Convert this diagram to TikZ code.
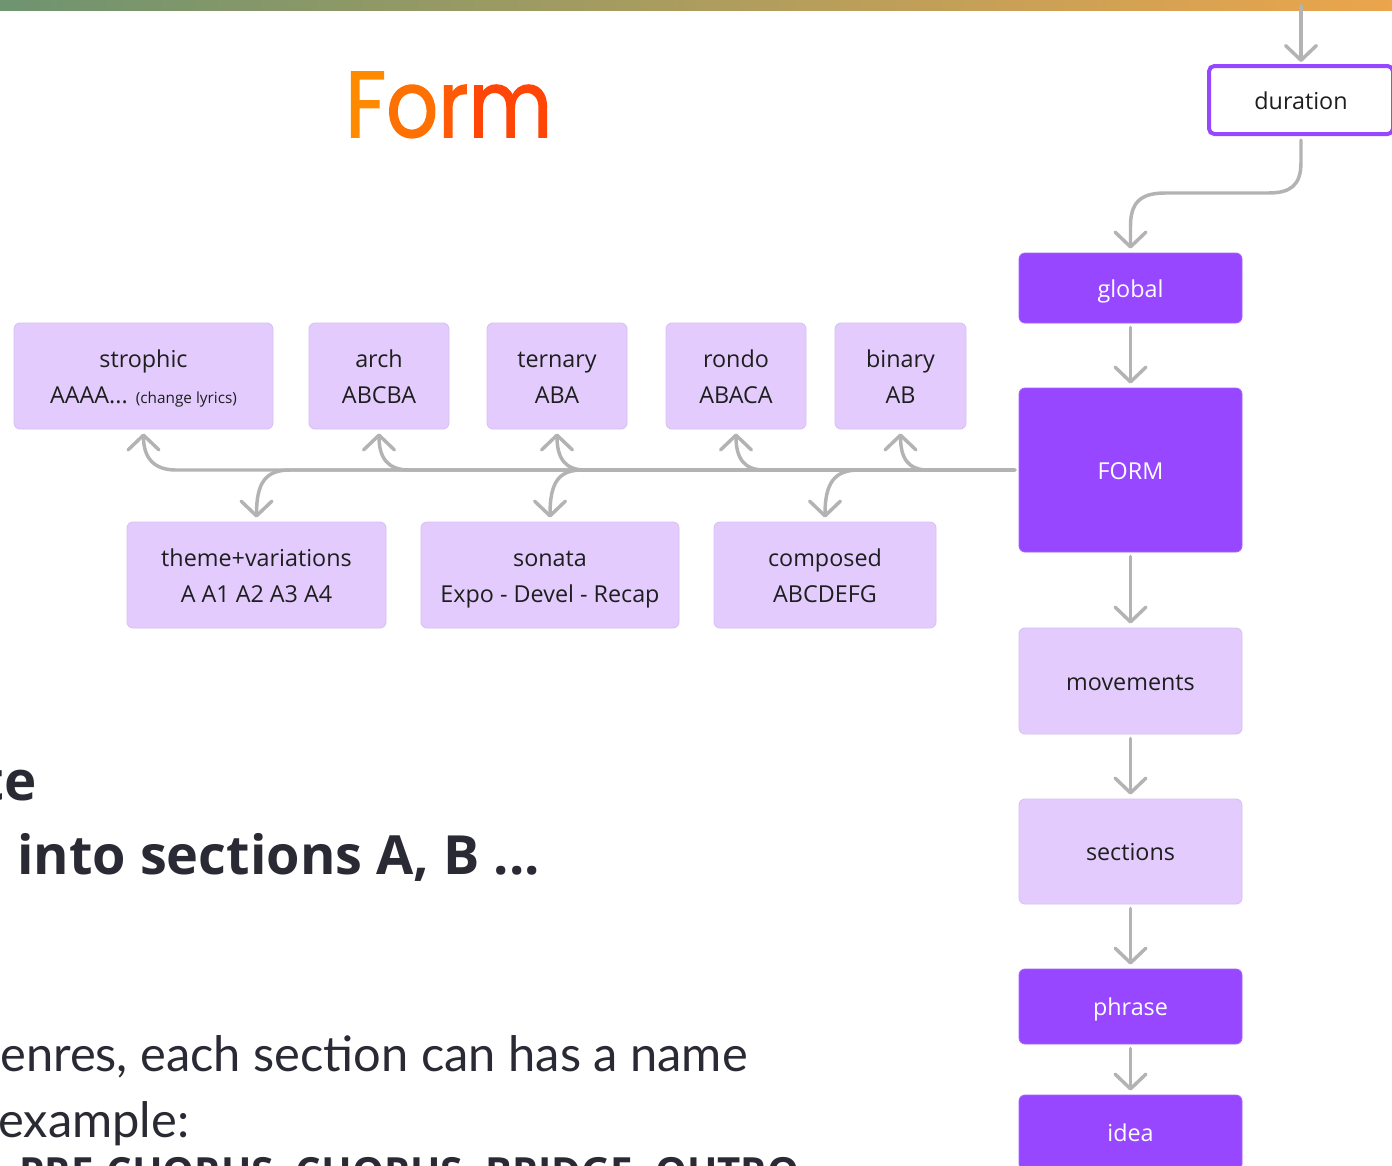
\documentclass[tikz,border=0pt]{standalone}
\usepackage{fontspec}
\setmainfont{Open Sans}
\newfontfamily\titlefont[FakeBold=1.6]{Poppins}
\newfontfamily\bodyfont{Lato}
\newfontfamily\headfont{Open Sans}
\usetikzlibrary{arrows.meta}
\newcommand\boxstrut{\rule[-6.6pt]{0pt}{27pt}}
\definecolor{purp}{HTML}{9747FF}
\definecolor{lav}{HTML}{E3CCFD}
\definecolor{lavline}{HTML}{D6BFF2}
\definecolor{conn}{HTML}{B3B3B3}
\definecolor{ink}{HTML}{1E1E1E}
\definecolor{bodyink}{HTML}{2A2A35}
\definecolor{orA}{HTML}{FF8A00}
\definecolor{orB}{HTML}{FF7003}
\definecolor{orC}{HTML}{FF5A06}
\definecolor{orD}{HTML}{FF4606}
\definecolor{barleft}{RGB}{110,148,112}
\definecolor{barright}{RGB}{235,165,76}
\begin{document}
\begin{tikzpicture}[x=0.75pt,y=-0.75pt,
  boxtext/.style={font=\fontsize{17.5}{27}\selectfont, align=center, inner sep=0pt},
  lightbox/.style={boxtext, draw=lavline, line width=0.6pt, fill=lav, rounded corners=4.5pt, text=ink},
  darkbox/.style={boxtext, fill=purp, draw=purp!85!white, line width=0.6pt, rounded corners=4.5pt, text=white},
  conn/.style={draw=conn, line width=2.6pt, line cap=round,
    -{Straight Barb[length=11pt,width=23pt,round]}, shorten >=3pt},
  w/.style={minimum width=#1*0.75pt},
  h/.style={minimum height=#1*0.75pt}]
\useasboundingbox (0,0) rectangle (1392,1165);
\clip (0,0) rectangle (1392,1165);
\fill[white] (0,0) rectangle (1392,1165);
\shade[left color=barleft, right color=barright] (0,0) rectangle (1392,10);

% title
\node[anchor=base west, inner sep=0pt] (title) at (345,137) {\resizebox{155.25pt}{48.75pt}{\titlefont\textcolor{orA}{F}\textcolor{orB}{o}\textcolor{orC}{r}\textcolor{orD}{m}}};

% left text
\node[anchor=base east, inner sep=0pt, text=bodyink, font=\headfont\bfseries\fontsize{41}{41}\selectfont] (te) at (37,800) {te};
\node[anchor=north west, inner sep=0pt, text=bodyink] (into) at (17,833) {\resizebox{392pt}{!}{\headfont\bfseries into sections A, B ...}};
\node[anchor=base west, inner sep=0pt, text=bodyink, font=\bodyfont\fontsize{36.6}{36.6}\selectfont] (p1) at (0,1071) {enres, each section can has a name};
\node[anchor=base west, inner sep=0pt, text=bodyink, font=\bodyfont\fontsize{36.6}{36.6}\selectfont] (p2) at (-2,1137) {example:};
\node[anchor=north west, inner sep=0pt, text=bodyink] (p3) at (19,1157) {\resizebox{585pt}{!}{\headfont\bfseries PRE-CHORUS, CHORUS, BRIDGE, OUTRO}};

% right column
\node[boxtext, draw=purp, line width=3pt, fill=white, rounded corners=4pt, text=ink, w=184, h=68] (dur) at (1301,100) {\boxstrut duration};
\node[darkbox, w=223, h=70] (global) at (1130.5,288) {\boxstrut global};
\node[darkbox, w=223, h=164] (FORM) at (1130.5,470) {\boxstrut FORM};
\node[lightbox, w=223, h=106] (mov) at (1130.5,681) {\boxstrut movements};
\node[lightbox, w=223, h=105] (sec) at (1130.5,851.5) {\boxstrut sections};
\node[darkbox, w=223, h=75] (phr) at (1130.5,1006.5) {\boxstrut phrase};
\node[darkbox, w=223, h=75] (idea) at (1130.5,1132.5) {\boxstrut idea};

% top row
\node[lightbox, w=259, h=106] (stro) at (143.5,376) {\boxstrut strophic\\\boxstrut AAAA... {\fontsize{11.5}{27}\selectfont(change lyrics)}};
\node[lightbox, w=140, h=106] (arch) at (379,376) {\boxstrut arch\\\boxstrut ABCBA};
\node[lightbox, w=140, h=106] (tern) at (557,376) {\boxstrut ternary\\\boxstrut ABA};
\node[lightbox, w=140, h=106] (rondo) at (736,376) {\boxstrut rondo\\\boxstrut ABACA};
\node[lightbox, w=131, h=106] (bin) at (900.5,376) {\boxstrut binary\\\boxstrut AB};
% bottom row
\node[lightbox, w=259, h=106] (theme) at (256.5,575) {\boxstrut theme+variations\\\boxstrut A A1 A2 A3 A4};
\node[lightbox, w=258, h=106] (sonata) at (550,575) {\boxstrut sonata\\\boxstrut Expo - Devel - Recap};
\node[lightbox, w=222, h=106] (comp) at (825,575) {\boxstrut composed\\\boxstrut ABCDEFG};

% connectors
\coordinate (topstart) at (1301,6);
\draw[conn, shorten >=1.5pt] (topstart) -- (dur.north);
\draw[conn] ([yshift=-3pt]dur.south) -- (1301,162) .. controls (1301,186) and (1290,193) .. (1268,193)
  -- (1165,193) .. controls (1140,193) and (1130.5,203) .. (1130.5,226) -- (global.north);
\draw[conn, shorten <=3pt] (global) -- (FORM);
\draw[conn, shorten <=3pt] (FORM) -- (mov);
\draw[conn, shorten <=3pt] (mov) -- (sec);
\draw[conn, shorten <=3pt] (sec) -- (phr);
\draw[conn, shorten <=3pt] (phr) -- (idea);

% branches from FORM
\draw[conn] ([xshift=-3pt]FORM.west) -- (176,470) .. controls (154,470) and (143.5,458) .. (stro.south);
\draw[conn] ([xshift=-3pt]FORM.west) -- (409,470) .. controls (388,470) and (379,458) .. (arch.south);
\draw[conn] ([xshift=-3pt]FORM.west) -- (585,470) .. controls (565,470) and (557,458) .. (tern.south);
\draw[conn] ([xshift=-3pt]FORM.west) -- (764,470) .. controls (744,470) and (736,458) .. (rondo.south);
\draw[conn] ([xshift=-3pt]FORM.west) -- (928,470) .. controls (908,470) and (900.5,458) .. (bin.south);
\draw[conn] ([xshift=-3pt]FORM.west) -- (290,470) .. controls (266,470) and (256.5,482) .. (theme.north);
\draw[conn] ([xshift=-3pt]FORM.west) -- (582,470) .. controls (559,470) and (550,482) .. (sonata.north);
\draw[conn] ([xshift=-3pt]FORM.west) -- (859,470) .. controls (835,470) and (825,482) .. (comp.north);
\end{tikzpicture}
\end{document}
